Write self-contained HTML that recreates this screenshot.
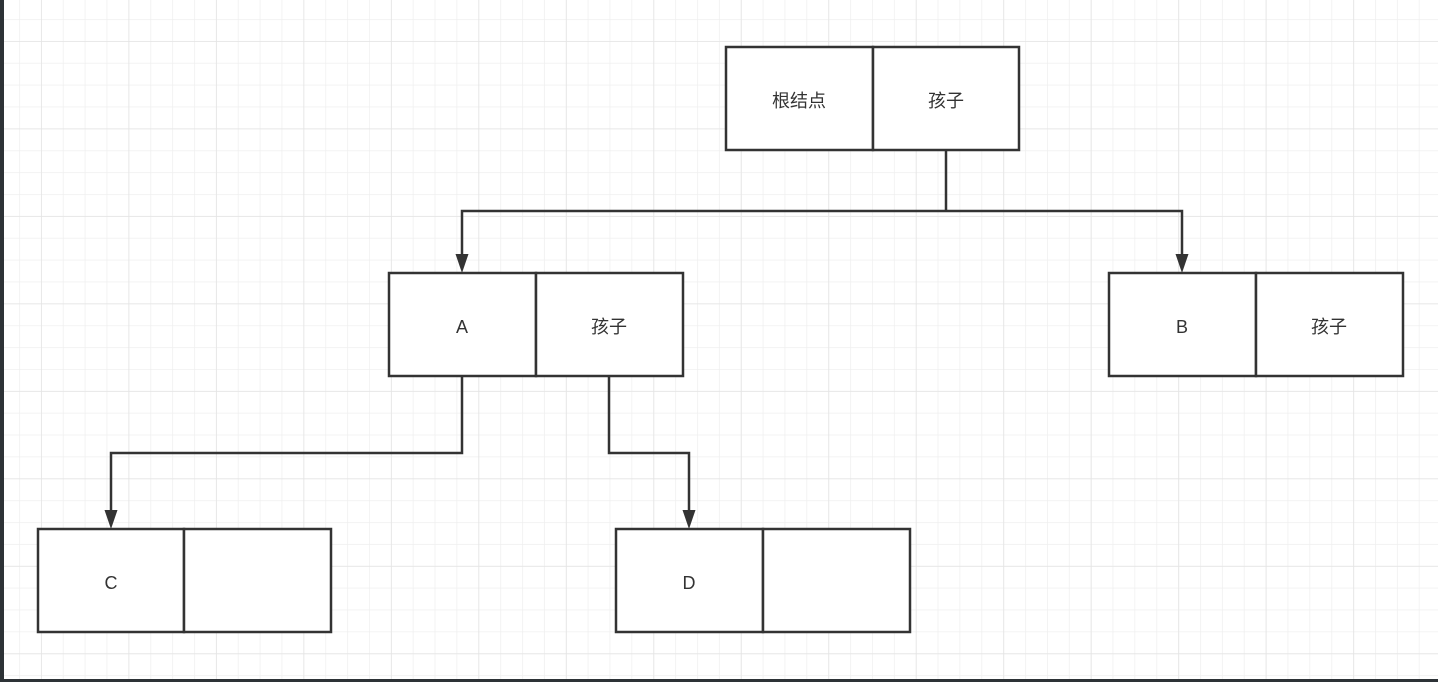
<!DOCTYPE html>
<html><head><meta charset="utf-8"><style>
html,body{margin:0;padding:0;width:1438px;height:682px;overflow:hidden;background:#fff}
svg{display:block}
text{font-family:"Liberation Sans","Noto Sans CJK SC",sans-serif;font-size:18px;fill:#333}
</style></head><body>
<svg width="1438" height="682" viewBox="0 0 1438 682" xmlns="http://www.w3.org/2000/svg">
<defs>
<pattern id="g" x="19.1" y="19.1" width="21.87" height="21.87" patternUnits="userSpaceOnUse">
<path d="M0 0H21.87M0 0V21.87" stroke="#efefef" stroke-width="1.5" fill="none"/>
</pattern>
<pattern id="G" x="41" y="41" width="87.48" height="87.48" patternUnits="userSpaceOnUse">
<path d="M0 0H87.48M0 0V87.48" stroke="#e4e4e4" stroke-width="1.5" fill="none"/>
</pattern>
</defs>
<rect width="1438" height="682" fill="url(#g)"/>
<rect width="1438" height="682" fill="url(#G)"/>
<rect x="0" y="0" width="4" height="682" fill="#2d3236"/>
<rect x="0" y="679" width="1438" height="3" fill="#2d3236"/>
<g fill="none" stroke="#333" stroke-width="2.5">
<path d="M946 150V211H462V256M946 211H1182V256"/>
<path d="M462 376V453H111V512M609 376V453H689V512"/>
</g>
<g fill="#333">
<path d="M455.5 254L468.5 254L462 273Z"/>
<path d="M1175.5 254L1188.5 254L1182 273Z"/>
<path d="M104.5 510L117.5 510L111 529Z"/>
<path d="M682.5 510L695.5 510L689 529Z"/>
</g>
<g fill="#fff" stroke="#333" stroke-width="2.5">
<rect x="726" y="47" width="147" height="103"/><rect x="873" y="47" width="146" height="103"/>
<rect x="389" y="273" width="147" height="103"/><rect x="536" y="273" width="147" height="103"/>
<rect x="1109" y="273" width="147" height="103"/><rect x="1256" y="273" width="147" height="103"/>
<rect x="38" y="529" width="146" height="103"/><rect x="184" y="529" width="147" height="103"/>
<rect x="616" y="529" width="147" height="103"/><rect x="763" y="529" width="147" height="103"/>
</g>
<g text-anchor="middle">
<text x="799" y="107">根结点</text><text x="946" y="107">孩子</text>
<text x="462" y="333">A</text><text x="609" y="333">孩子</text>
<text x="1182" y="333">B</text><text x="1329" y="333">孩子</text>
<text x="111" y="589">C</text>
<text x="689" y="589">D</text>
</g>
</svg>
</body></html>
